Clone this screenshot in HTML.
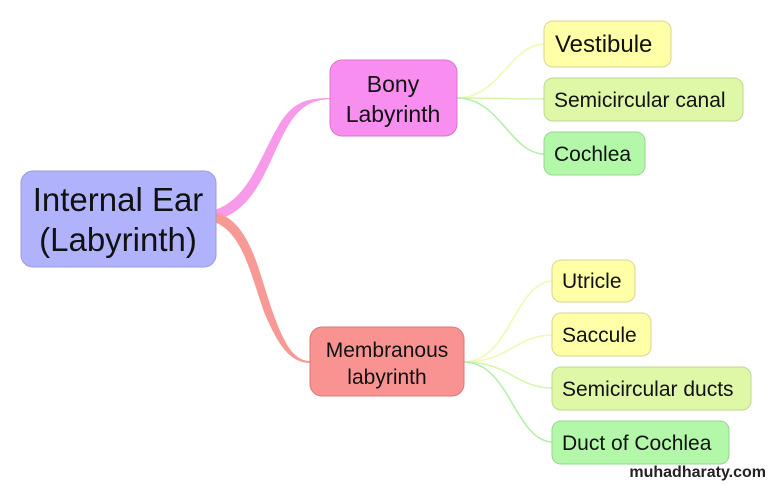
<!DOCTYPE html>
<html><head><style>
body{margin:0;background:#fff;}
svg{display:block;font-family:"Liberation Sans",Arial,sans-serif;}
</style></head><body>
<svg width="772" height="485" viewBox="0 0 772 485">
<path d="M214,210 C250,200 262,150 282,120 C296,100 310,98 331,98 L331,99 C312,100 300,106 288,126 C268,160 258,210 216,220 Z" fill="#f79ae9"/>
<path d="M214,212 C250,220 258,270 272,310 C286,350 296,361 311,361 L311,363 C292,363 280,350 264,312 C250,272 242,232 214,222 Z" fill="#f79a96"/>
<g fill="none" stroke-width="1.5">
<path d="M457,98 C500,98 510,44 545,44" stroke="#f2f8b0"/>
<path d="M457,98 C500,98 510,99 545,99" stroke="#d8f5a8"/>
<path d="M457,98 C500,98 510,154 545,154" stroke="#b0f0a4"/>
<path d="M464,362 C510,362 515,281 553,281" stroke="#f2f8b0"/>
<path d="M464,362 C510,362 515,335 553,335" stroke="#f2f8b0"/>
<path d="M464,362 C510,362 515,388 553,388" stroke="#d8f5a8"/>
<path d="M464,362 C510,362 515,442 553,442" stroke="#b0f0a4"/>
</g>
<rect x="21" y="171" width="195" height="96" rx="12" fill="#b0b2fb" stroke="#9a9ce0"/>
<text x="118" y="211" font-size="33" text-anchor="middle" fill="#111">Internal Ear</text>
<text x="118" y="251" font-size="33" text-anchor="middle" fill="#111">(Labyrinth)</text>
<rect x="330" y="60" width="127" height="76" rx="12" fill="#f98ef1" stroke="#d877cf"/>
<text x="393" y="92" font-size="23" text-anchor="middle" fill="#111">Bony</text>
<text x="393" y="122" font-size="23" text-anchor="middle" fill="#111">Labyrinth</text>
<rect x="310" y="327" width="154" height="69" rx="12" fill="#f99392" stroke="#d77a79"/>
<text x="387" y="357" font-size="21" text-anchor="middle" fill="#111">Membranous</text>
<text x="387" y="384" font-size="21" text-anchor="middle" fill="#111">labyrinth</text>
<g font-size="21" fill="#111">
<rect x="544" y="21" width="127" height="46" rx="9" fill="#ffffa8" stroke="#d6d690"/>
<text x="555" y="52" font-size="24">Vestibule</text>
<rect x="544" y="78" width="199" height="43" rx="9" fill="#dff8a8" stroke="#bcd690"/>
<text x="554" y="107">Semicircular canal</text>
<rect x="544" y="132" width="101" height="43" rx="9" fill="#b2f8a8" stroke="#96d690"/>
<text x="554" y="161">Cochlea</text>
<rect x="552" y="260" width="83" height="42" rx="9" fill="#ffffa8" stroke="#d6d690"/>
<text x="562" y="288">Utricle</text>
<rect x="552" y="313" width="99" height="43" rx="9" fill="#ffffa8" stroke="#d6d690"/>
<text x="562" y="342">Saccule</text>
<rect x="552" y="367" width="199" height="43" rx="9" fill="#dff8a8" stroke="#bcd690"/>
<text x="562" y="396">Semicircular ducts</text>
<rect x="552" y="421" width="177" height="43" rx="9" fill="#b2f8a8" stroke="#96d690"/>
<text x="562" y="450">Duct of Cochlea</text>
</g>
<text x="766" y="477" font-size="16" font-weight="bold" text-anchor="end" fill="#222">muhadharaty.com</text>
</svg>
</body></html>
